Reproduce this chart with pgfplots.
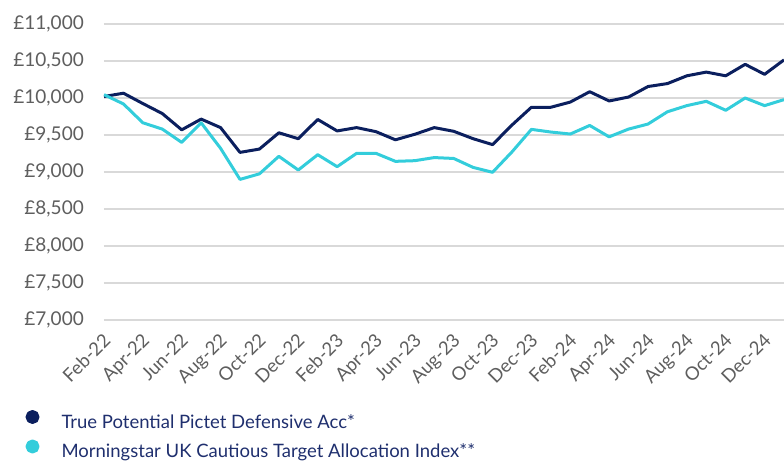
\documentclass[border=0pt]{standalone}
\usepackage{fontspec}
\setmainfont{Lato}
\usepackage{pgfplots}
\pgfplotsset{compat=1.18}
\definecolor{navy}{HTML}{0B1F5E}
\definecolor{cyanline}{HTML}{33CDDB}
\definecolor{gridgray}{HTML}{D9D9D9}
\definecolor{ticklab}{HTML}{5E5E5E}
\definecolor{legtext}{HTML}{1F2F6E}

\pgfplotstableread{
i fund index
0 10020 10045
1 10065 9920
2 9925 9665
3 9790 9580
4 9570 9400
5 9715 9665
6 9600 9320
7 9265 8900
8 9310 8975
9 9530 9212
10 9450 9027
11 9710 9234
12 9555 9072
13 9600 9252
14 9545 9252
15 9435 9144
16 9510 9153
17 9600 9195
18 9550 9183
19 9450 9062
20 9370 8996
21 9635 9272
22 9875 9576
23 9875 9540
24 9945 9513
25 10085 9629
26 9960 9475
27 10013 9580
28 10155 9648
29 10195 9814
30 10300 9897
31 10350 9955
32 10300 9834
33 10455 10000
34 10320 9897
35 10515 9978
}\datatable

\begin{document}
\begin{tikzpicture}[x=1pt,y=1pt]
\path[use as bounding box] (0,0) rectangle (784,461);
\begin{axis}[
  at={(104pt,141pt)}, anchor=south west,
  scale only axis, width=680pt, height=296pt,
  xmin=0, xmax=35, ymin=7000, ymax=11000,
  scaled y ticks=false,
  axis line style={draw=none},
  major tick length=0pt,
  ytick={7000,7500,...,11000},
  yticklabels={{£7,000},{£7,500},{£8,000},{£8,500},{£9,000},{£9,500},{£10,000},{£10,500},{£11,000}},
  y tick label style={anchor=east, inner sep=0pt, xshift=-20pt, font=\fontsize{19}{22}\selectfont, text=ticklab},
  ymajorgrids, grid style={gridgray, line width=1.5pt},
  xtick={0,2,...,34},
  xticklabels={Feb-22,Apr-22,Jun-22,Aug-22,Oct-22,Dec-22,Feb-23,Apr-23,Jun-23,Aug-23,Oct-23,Dec-23,Feb-24,Apr-24,Jun-24,Aug-24,Oct-24,Dec-24},
  x tick label style={xshift=-2pt, yshift=-12pt, rotate=45, anchor=north east, inner sep=0pt, font=\fontsize{18.5}{20}\selectfont, text=ticklab},
  legend cell align=left,
  legend style={draw=none, fill=none, inner sep=0pt, outer sep=0pt,
    at={(axis description cs:-0.1154,-0.304)}, anchor=north west,
    font=\fontsize{18.5}{22}\selectfont, text=legtext,
    nodes={inner sep=0pt, text height=14pt, text depth=4pt},
    row sep=7pt},
  legend image code/.code={\fill[#1] (5.5pt,6.5pt) circle (5.5pt); \path[draw=none] (0pt,0pt) -- (34.5pt,0pt);},
]
\addplot[navy, line width=3pt, line join=round, mark=none] table[x=i, y=fund] {\datatable};
\addlegendentry{True Potential Pictet Defensive Acc*}
\addplot[cyanline, line width=3pt, line join=round, mark=none] table[x=i, y=index] {\datatable};
\addlegendentry{Morningstar UK Cautious Target Allocation Index**}
\end{axis}
\end{tikzpicture}
\end{document}
